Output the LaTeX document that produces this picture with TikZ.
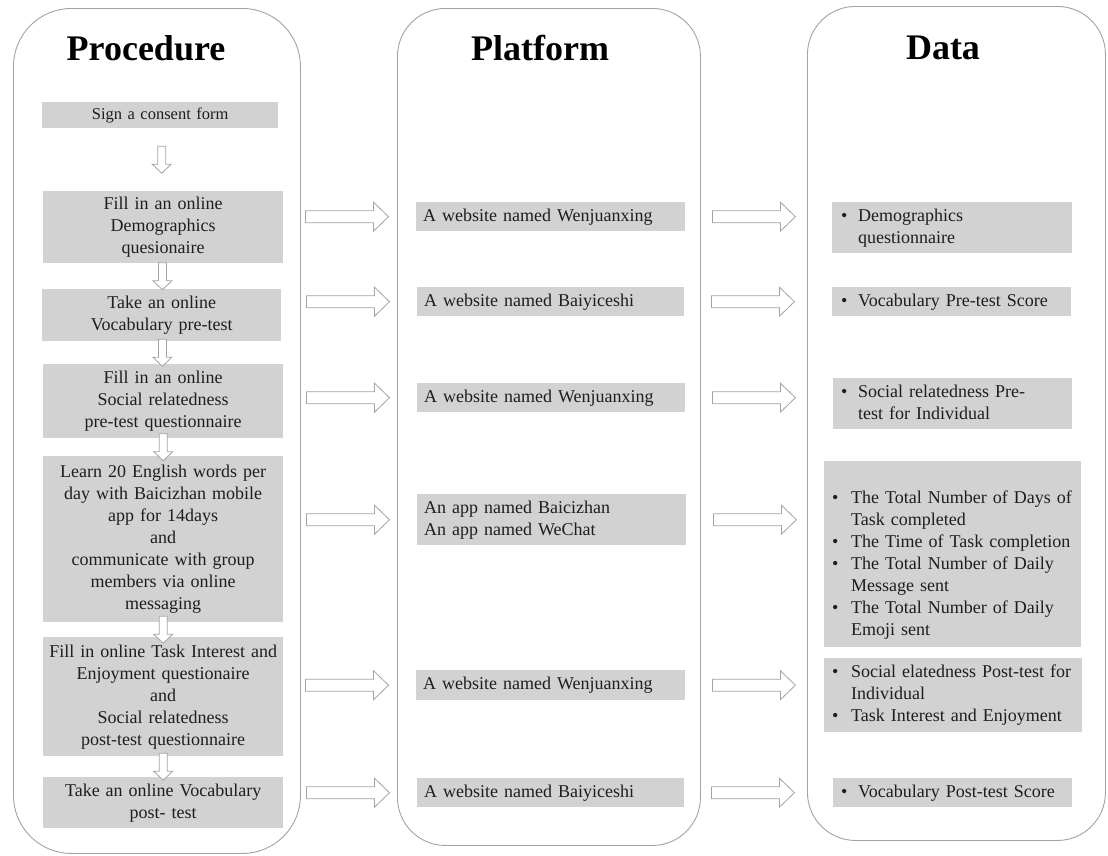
\documentclass[tikz,border=0pt]{standalone}
\usepackage{fontspec}
\setmainfont{Liberation Serif}
\usetikzlibrary{calc}
\definecolor{boxgray}{HTML}{D3D2D2}
\definecolor{linegray}{HTML}{A3A3A3}
\definecolor{txt}{HTML}{1E1E1E}
\newcommand{\bodyfont}{\fontsize{18}{22}\selectfont}
\newcommand{\blist}[2]{\begin{tabular}{@{}p{#1}@{}l@{}}#2\end{tabular}}
\begin{document}
\begin{tikzpicture}[x=1pt,y=-1pt,
  col/.style={draw=linegray, line width=0.9pt, fill=white, anchor=north west, inner sep=0pt},
  title/.style={font=\fontsize{36}{40}\selectfont\bfseries, text=black, anchor=base, inner sep=0pt},
  gbox/.style={fill=boxgray, inner xsep=0pt, inner ysep=0pt, anchor=north west, font=\bodyfont, text=txt, align=center},
  mbox/.style={gbox, inner xsep=7pt, align=left},
  bbox/.style={gbox, align=left},
  arrowline/.style={draw=linegray, fill=white, line width=0.8pt, line join=miter},
  pics/rarr/.style={code={
    \path[arrowline] (-41.5,-6) -- (26.5,-6) -- (26.5,-14.5) -- (41.5,0) -- (26.5,14.5) -- (26.5,6) -- (-41.5,6) -- cycle;}},
  pics/darr/.style={code={
    \path[arrowline] (-4,-13.5) -- (4,-13.5) -- (4,4.5) -- (9.5,4.5) -- (0,13.5) -- (-9.5,4.5) -- (-4,4.5) -- cycle;}}
]
\useasboundingbox (0,0) rectangle (1108,855);

% columns
\node[col, rounded corners=58pt, minimum width=287pt, minimum height=845pt] (colP) at (13,8) {};
\node[col, rounded corners=48pt, minimum width=303pt, minimum height=837pt] (colF) at (397,8) {};
\node[col, rounded corners=48pt, minimum width=298pt, minimum height=834pt] (colD) at (807,6) {};

% titles
\node[title] (tP) at (146,60) {Procedure};
\node[title] (tF) at (540,60) {Platform};
\node[title] (tD) at (943,59) {Data};

% procedure boxes
\node[gbox, minimum width=236pt, minimum height=26pt, text width=236pt, font=\fontsize{16.5}{20}\selectfont] (L1) at (42,102) {Sign a consent form};
\node[gbox, minimum width=240pt, minimum height=72pt, text width=240pt] (L2) at (43,191) {Fill in an online\\ Demographics\\ quesionaire};
\node[gbox, minimum width=239pt, minimum height=52pt, text width=239pt] (L3) at (42,289) {Take an online\\Vocabulary pre-test};
\node[gbox, minimum width=240pt, minimum height=74pt, text width=240pt] (L4) at (43,364) {Fill in an online\\Social relatedness\\ pre-test questionnaire};
\node[gbox, minimum width=240pt, minimum height=166pt, text width=240pt] (L5) at (43,456) {Learn 20 English words per\\day with Baicizhan mobile\\app for 14days\\and\\communicate with group\\members via online\\messaging};
\node[gbox, minimum width=240pt, minimum height=119pt, text width=240pt] (L6) at (43,637) {Fill in online Task Interest and\\Enjoyment questionaire\\and\\Social relatedness\\post-test questionnaire};
\node[gbox, minimum width=240pt, minimum height=51pt, text width=240pt] (L7) at (43,777) {Take an online Vocabulary\\post- test};

% platform boxes
\node[mbox, minimum width=269pt, minimum height=29pt, text width=255pt] (M1) at (416,202) {A website named Wenjuanxing};
\node[mbox, minimum width=267pt, minimum height=29pt, text width=253pt] (M2) at (417,287) {A website named Baiyiceshi};
\node[mbox, minimum width=268pt, minimum height=29pt, text width=254pt] (M3) at (417,383) {A website named Wenjuanxing};
\node[mbox, minimum width=269pt, minimum height=51pt, text width=255pt] (M4) at (417,494) {An app named Baicizhan\\An app named WeChat};
\node[mbox, minimum width=269pt, minimum height=30pt, text width=255pt] (M5) at (416,670) {A website named Wenjuanxing};
\node[mbox, minimum width=267pt, minimum height=29pt, text width=253pt] (M6) at (417,778) {A website named Baiyiceshi};

% data boxes
\node[bbox, inner xsep=9pt, minimum width=240pt, minimum height=51pt, text width=222pt] (R1) at (832,202)
  {\blist{17pt}{\textbullet & Demographics\\ & questionnaire}};
\node[bbox, inner xsep=9pt, minimum width=239pt, minimum height=29pt, text width=221pt] (R2) at (832,287)
  {\blist{17pt}{\textbullet & Vocabulary Pre-test Score}};
\node[bbox, inner xsep=8pt, minimum width=239pt, minimum height=51pt, text width=223pt] (R3) at (833,378)
  {\blist{17pt}{\textbullet & Social relatedness Pre-\\ & test for Individual}};
\node[bbox, inner xsep=8pt, minimum width=257pt, minimum height=186pt, text width=241pt] (R4) at (824,461)
  {\raisebox{-11pt}[\height][\depth]{\blist{19pt}{\textbullet & The Total Number of Days of\\ & Task completed\\ \textbullet & The Time of Task completion\\ \textbullet & The Total Number of Daily\\ & Message sent\\ \textbullet & The Total Number of Daily\\ & Emoji sent}}};
\node[bbox, inner xsep=8pt, minimum width=258pt, minimum height=74pt, text width=242pt] (R5) at (824,658)
  {\blist{19pt}{\textbullet & Social elatedness Post-test for\\ & Individual\\ \textbullet & Task Interest and Enjoyment}};
\node[bbox, inner xsep=8pt, minimum width=239pt, minimum height=29pt, text width=223pt] (R6) at (833,778)
  {\blist{17pt}{\textbullet & Vocabulary Post-test Score}};

% down arrows between procedure steps
\pic (d1) at ($(L1.south)!0.5!(L2.north)$) {darr};
\pic (d2) at ($(L2.south)!0.5!(L3.north)$) {darr};
\pic (d3) at ($(L3.south)!0.5!(L4.north)$) {darr};
\pic (d4) at ($(L4.south)!0.5!(L5.north)$) {darr};
\pic (d5) at ($(L5.south)!0.5!(L6.north)$) {darr};
\pic (d6) at ($(L6.south)!0.5!(L7.north)$) {darr};

% right arrows
\foreach \m in {M1,M2,M3,M4,M5,M6}{
  \pic (a\m) at ([xshift=-69pt]\m.west) {rarr};
  \pic (b\m) at ([xshift=68.5pt]\m.east) {rarr};
}
\end{tikzpicture}
\end{document}
